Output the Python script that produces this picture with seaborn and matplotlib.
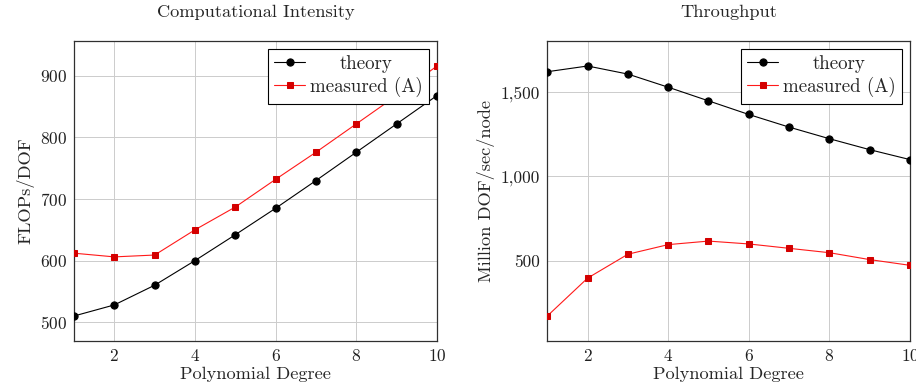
import matplotlib
matplotlib.use("Agg")
import matplotlib.pyplot as plt
import seaborn as sns
import pandas as pd
from matplotlib.ticker import FuncFormatter
from matplotlib.transforms import Affine2D

degree = [1, 2, 3, 4, 5, 6, 7, 8, 9, 10]
intensity_theory = [510, 528, 560, 600, 642, 685, 730, 776, 822, 868]
intensity_measured = [612, 606, 609, 650, 687, 732, 776, 822, 868, 916]
throughput_theory = [1622, 1656, 1608, 1530, 1449, 1368, 1293, 1224, 1159, 1100]
throughput_measured = [171, 396, 538, 595, 616, 599, 573, 547, 506, 472]

series_labels = ["theory", "measured (A)"]
titles = ["Computational Intensity", "Throughput"]
ylabels = ["FLOPs/DOF", "Million DOF/sec/node"]
xlabel = "Polynomial Degree"
x_ticks = [2, 4, 6, 8, 10]
y_ticks = [[500, 600, 700, 800, 900], [500, 1000, 1500]]

sns.set_theme(style="white")
plt.rcParams["font.family"] = ["cmr10", "DejaVu Serif"]
plt.rcParams["axes.formatter.use_mathtext"] = True
plt.rcParams["font.size"] = 12

fig = plt.figure(figsize=(9.16, 3.91), dpi=100)
ax1 = fig.add_axes([74 / 916, 1 - 341 / 391, 363 / 916, 300 / 391])
ax2 = fig.add_axes([547.3 / 916, 1 - 341 / 391, 362.7 / 916, 300 / 391])

panels = [
    (ax1, intensity_theory, intensity_measured),
    (ax2, throughput_theory, throughput_measured),
]

legends = []
for i, (ax, th, me) in enumerate(panels):
    df = pd.DataFrame({"degree": degree, "theory": th, "measured": me})
    sns.lineplot(data=df, x="degree", y="theory", ax=ax, color="black",
                 marker="o", markersize=5.2, markeredgecolor="black",
                 linewidth=0.8, label=series_labels[0], zorder=3)
    sns.lineplot(data=df, x="degree", y="measured", ax=ax, color="#ff1a1a",
                 marker="s", markersize=4.6, markerfacecolor="#d40000",
                 markeredgecolor="#d40000", linewidth=0.8,
                 label=series_labels[1], zorder=3)
    allv = th + me
    lo, hi = min(allv), max(allv)
    pad = 0.1 * (hi - lo)
    ax.set_ylim(lo - pad, hi + pad)
    ax.set_xlim(1, 10)
    ax.set_xticks(x_ticks)
    ax.set_yticks(y_ticks[i])
    ax.grid(True, color="#cccccc", linewidth=0.7)
    ax.set_axisbelow(True)
    for s in ax.spines.values():
        s.set_color("#303030")
        s.set_linewidth(0.9)
    ax.tick_params(axis="both", direction="in", length=3, color="#c0c0c0",
                   labelsize=12.5, pad=5, labelcolor="#202020")
    ax.set_title(titles[i], fontsize=13.2, pad=17)
    ax.set_xlabel(xlabel, fontsize=13.2, labelpad=2)
    ax.set_ylabel(ylabels[i], fontsize=13.2, labelpad=4)
    leg = ax.legend(loc="upper right", fontsize=13.6, frameon=True,
                    fancybox=False, framealpha=1, borderaxespad=0.4,
                    handlelength=1.65, handletextpad=0.25, borderpad=0.35,
                    labelspacing=0.2)
    leg.get_frame().set_edgecolor("black")
    leg.get_frame().set_linewidth(0.8)
    legends.append(leg)

ax2.yaxis.set_major_formatter(FuncFormatter(lambda v, p: f"{v:,.0f}"))

# centre the legend entries within the text column (as in pgfplots)
fig.canvas.draw()
renderer = fig.canvas.get_renderer()
for leg in legends:
    widths = [t.get_window_extent(renderer).width for t in leg.texts]
    wmax = max(widths)
    for t, w in zip(leg.texts, widths):
        dx = (wmax - w) / 2
        if dx > 0:
            t.set_transform(t.get_transform() + Affine2D().translate(dx, 0))

fig.savefig("out.png", dpi=100)
